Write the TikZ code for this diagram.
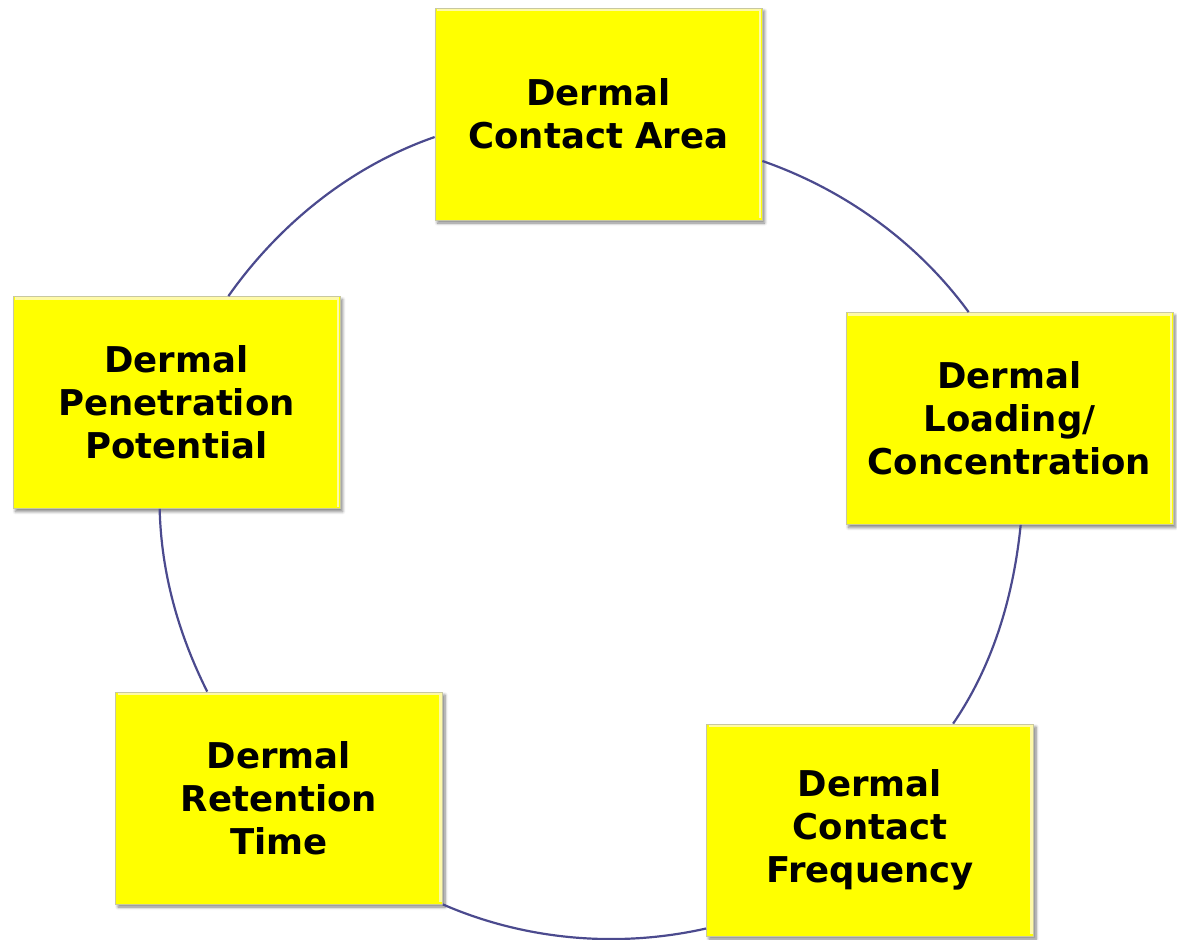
\documentclass[tikz,border=0pt]{standalone}
\usepackage{fontspec}
\setmainfont{DejaVu Sans}
\usetikzlibrary{shadows.blur}
\definecolor{ringline}{HTML}{4B4A8E}
\definecolor{boxfill}{HTML}{FFFF00}
\definecolor{boxedge}{HTML}{C8C8A0}
\tikzset{
  factor/.style={
    rectangle, fill=boxfill, draw=boxedge, line width=0.8pt,
    minimum width=327pt, minimum height=212pt, inner sep=0pt,
    align=center, text=black,
    font=\fontsize{35.5}{43}\selectfont\bfseries,
    blur shadow={shadow xshift=2.5pt, shadow yshift=-3pt,
      shadow blur radius=3pt, shadow blur steps=6, shadow opacity=50},
    path picture={
      \draw[yellow!35!white, line width=2.2pt]
        ([shift={(2pt,-2pt)}]path picture bounding box.north west) --
        ([shift={(-2pt,-2pt)}]path picture bounding box.north east) --
        ([shift={(-2pt,2pt)}]path picture bounding box.south east);
    }
  },
  ring/.style={draw=ringline, line width=2.2pt, looseness=0.87}
}
\begin{document}
\begin{tikzpicture}[x=1pt,y=1pt]
  \useasboundingbox (0,0) rectangle (1177,-939);

  % the five factors, clockwise from the top
  \node[factor] (area)  at (598.5,-114)  {Dermal\\Contact Area};
  \node[factor] (load)  at (1009.5,-418.5) {Dermal\\Loading/\\Concentration};
  \node[factor] (freq)  at (870,-830)    {Dermal\\Contact\\Frequency};
  \node[factor] (time)  at (279,-798)    {Dermal\\Retention\\Time};
  \node[factor] (pen)   at (176.5,-402.5) {Dermal\\Penetration\\Potential};

  % circular arcs of the cycle between neighbouring boxes
  \draw[ring] (area.344)   to[out=-19.2, in=126.2] (load.111.5);
  \draw[ring] (load.276.8) to[out=-95.8, in=55.6]  (freq.52.9);
  \draw[ring] (freq.211)   to[out=192.7, in=336.5] (time.327.5);
  \draw[ring] (time.124.9) to[out=116.6, in=271.4] (pen.261.1);
  \draw[ring] (pen.64)     to[out=54.8,  in=199.2] (area.188);
\end{tikzpicture}
\end{document}
